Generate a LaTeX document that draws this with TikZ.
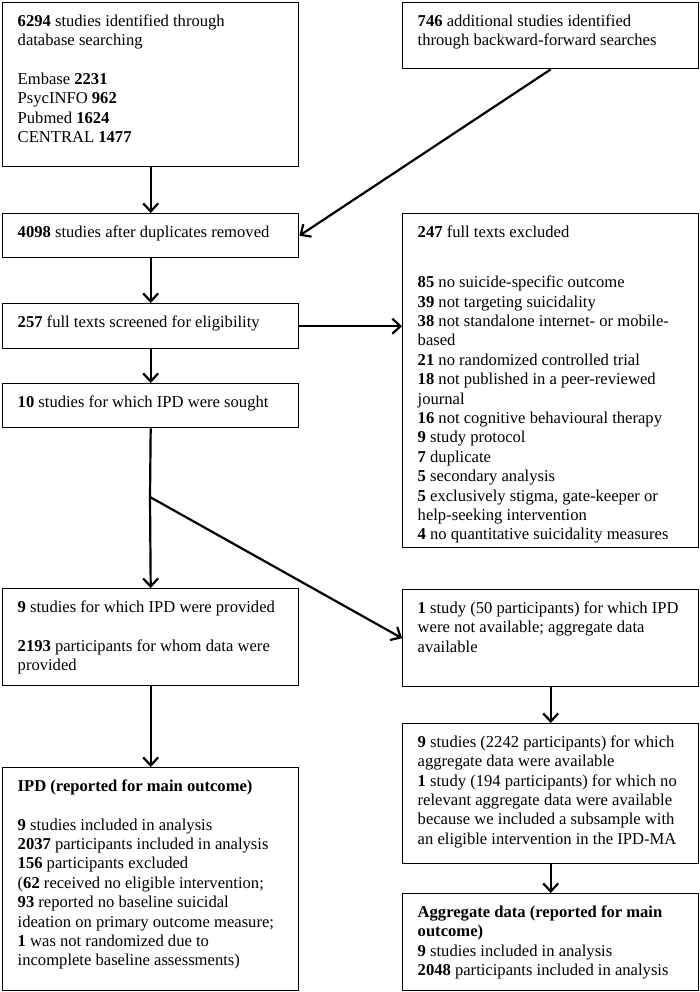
\documentclass[tikz,border=0pt]{standalone}
\usepackage{fontspec}
\setmainfont{Liberation Serif}
\usetikzlibrary{arrows.meta,calc}
\newcommand{\boxtxt}[2]{\parbox[t][#1][t]{266pt}{\fontsize{16.6}{19.4}\selectfont\raggedright\strut #2}}
\tikzset{
  box/.style={draw=black, line width=1.4pt, rectangle, anchor=north west, inner xsep=15pt, inner ysep=10pt, align=left},
  arr/.style={line width=2.2pt, -{Straight Barb[length=8pt,width=15pt,line width=2.2pt]}},
  conn/.style={line width=2.2pt}
}
\begin{document}
\begin{tikzpicture}[x=1pt,y=-1pt]
\useasboundingbox (0,0) rectangle (700,992);
\fill[white] (0,0) rectangle (700,992);

\node[box] (A) at (2,2) {\boxtxt{144pt}{\textbf{6294} studies identified through\\
database searching\\[19.4pt]
Embase \textbf{2231}\\
PsycINFO \textbf{962}\\
Pubmed \textbf{1624}\\
CENTRAL \textbf{1477}}};

\node[box] (B) at (402,2) {\boxtxt{46pt}{\textbf{746} additional studies identified\\
through backward-forward searches}};

\node[box] (C) at (2,213) {\boxtxt{24pt}{\textbf{4098} studies after duplicates removed}};

\node[box] (D) at (402,213) {\boxtxt{314pt}{\textbf{247} full texts excluded\\[31pt]
\textbf{85} no suicide-specific outcome\\
\textbf{39} not targeting suicidality\\
\textbf{38} not standalone internet- or mobile-\\
based\\
\textbf{21} no randomized controlled trial\\
\textbf{18} not published in a peer-reviewed\\
journal\\
\textbf{16} not cognitive behavioural therapy\\
\textbf{9} study protocol\\
\textbf{7} duplicate\\
\textbf{5} secondary analysis\\
\textbf{5} exclusively stigma, gate-keeper or\\
help-seeking intervention\\
\textbf{4} no quantitative suicidality measures}};

\node[box] (E) at (2,303) {\boxtxt{25pt}{\textbf{257} full texts screened for eligibility}};

\node[box] (F) at (2,383) {\boxtxt{24pt}{\textbf{10} studies for which IPD were sought}};

\node[box] (G) at (2,588) {\boxtxt{77pt}{\textbf{9} studies for which IPD were provided\\[19.4pt]
\textbf{2193} participants for whom data were\\
provided}};

\node[box] (H) at (402,589) {\boxtxt{77pt}{\textbf{1} study (50 participants) for which IPD\\
were not available; aggregate data\\
available}};

\node[box] (I) at (2,767) {\boxtxt{203pt}{\textbf{IPD (reported for main outcome)}\\[19.4pt]
\textbf{9} studies included in analysis\\
\textbf{2037} participants included in analysis\\
\textbf{156} participants excluded\\
(\textbf{62} received no eligible intervention;\\
\textbf{93} reported no baseline suicidal\\
ideation on primary outcome measure;\\
\textbf{1} was not randomized due to\\
incomplete baseline assessments)}};

\node[box] (J) at (402,723) {\boxtxt{120pt}{\textbf{9} studies (2242 participants) for which\\
aggregate data were available\\
\textbf{1} study (194 participants) for which no\\
relevant aggregate data were available\\
because we included a subsample with\\
an eligible intervention in the IPD-MA}};

\node[box] (K) at (402,893) {\boxtxt{77pt}{\textbf{Aggregate data (reported for main\\
outcome)}\\
\textbf{9} studies included in analysis\\
\textbf{2048} participants included in analysis}};

\coordinate (br) at (150,497);

\draw[arr] (A.south) -- (C.north);
\draw[arr] (B.south) -- (C.east);
\draw[arr] (C.south) -- (E.north);
\draw[arr] (E.east) -- (E.east -| D.west);
\draw[arr] (E.south) -- (F.north);
\draw[conn] (F.south) -- (br);
\draw[arr] (br) -- (G.north);
\draw[arr] (br) -- (H.west);
\draw[arr] (G.south) -- (I.north);
\draw[arr] (H.south) -- (J.north);
\draw[arr] (J.south) -- (K.north);
\end{tikzpicture}
\end{document}
